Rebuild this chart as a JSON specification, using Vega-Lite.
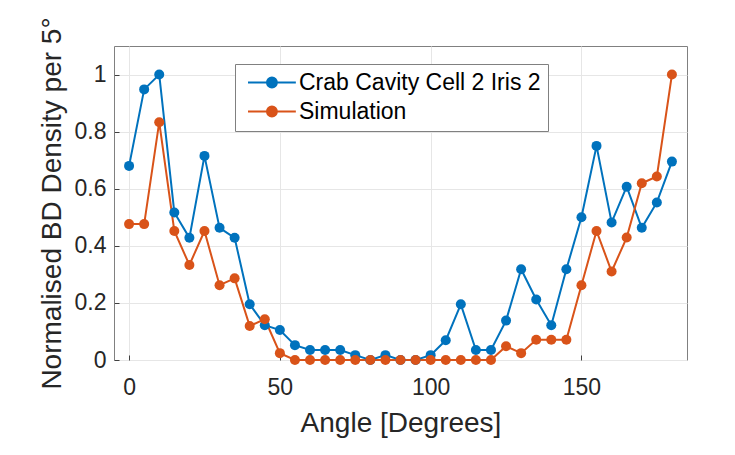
{
  "$schema": "https://vega.github.io/schema/vega-lite/v6.json",
  "width": 573,
  "height": 314,
  "autosize": "none",
  "padding": {"left": 114, "top": 46, "right": 48, "bottom": 95},
  "background": "white",
  "config": {
    "font": "Liberation Sans",
    "view": {"stroke": "#808080", "strokeWidth": 1}
  },
  "data": {
    "values": [
      {"angle": 0, "series": "Crab Cavity Cell 2 Iris 2", "value": 0.68},
      {"angle": 5, "series": "Crab Cavity Cell 2 Iris 2", "value": 0.948},
      {"angle": 10, "series": "Crab Cavity Cell 2 Iris 2", "value": 1.0},
      {"angle": 15, "series": "Crab Cavity Cell 2 Iris 2", "value": 0.517},
      {"angle": 20, "series": "Crab Cavity Cell 2 Iris 2", "value": 0.428},
      {"angle": 25, "series": "Crab Cavity Cell 2 Iris 2", "value": 0.715},
      {"angle": 30, "series": "Crab Cavity Cell 2 Iris 2", "value": 0.463},
      {"angle": 35, "series": "Crab Cavity Cell 2 Iris 2", "value": 0.428},
      {"angle": 40, "series": "Crab Cavity Cell 2 Iris 2", "value": 0.195},
      {"angle": 45, "series": "Crab Cavity Cell 2 Iris 2", "value": 0.122},
      {"angle": 50, "series": "Crab Cavity Cell 2 Iris 2", "value": 0.105},
      {"angle": 55, "series": "Crab Cavity Cell 2 Iris 2", "value": 0.052},
      {"angle": 60, "series": "Crab Cavity Cell 2 Iris 2", "value": 0.035},
      {"angle": 65, "series": "Crab Cavity Cell 2 Iris 2", "value": 0.035},
      {"angle": 70, "series": "Crab Cavity Cell 2 Iris 2", "value": 0.035},
      {"angle": 75, "series": "Crab Cavity Cell 2 Iris 2", "value": 0.017},
      {"angle": 80, "series": "Crab Cavity Cell 2 Iris 2", "value": 0},
      {"angle": 85, "series": "Crab Cavity Cell 2 Iris 2", "value": 0.017},
      {"angle": 90, "series": "Crab Cavity Cell 2 Iris 2", "value": 0},
      {"angle": 95, "series": "Crab Cavity Cell 2 Iris 2", "value": 0},
      {"angle": 100, "series": "Crab Cavity Cell 2 Iris 2", "value": 0.017},
      {"angle": 105, "series": "Crab Cavity Cell 2 Iris 2", "value": 0.069},
      {"angle": 110, "series": "Crab Cavity Cell 2 Iris 2", "value": 0.195},
      {"angle": 115, "series": "Crab Cavity Cell 2 Iris 2", "value": 0.035},
      {"angle": 120, "series": "Crab Cavity Cell 2 Iris 2", "value": 0.035},
      {"angle": 125, "series": "Crab Cavity Cell 2 Iris 2", "value": 0.138},
      {"angle": 130, "series": "Crab Cavity Cell 2 Iris 2", "value": 0.318},
      {"angle": 135, "series": "Crab Cavity Cell 2 Iris 2", "value": 0.212},
      {"angle": 140, "series": "Crab Cavity Cell 2 Iris 2", "value": 0.122},
      {"angle": 145, "series": "Crab Cavity Cell 2 Iris 2", "value": 0.318},
      {"angle": 150, "series": "Crab Cavity Cell 2 Iris 2", "value": 0.5},
      {"angle": 155, "series": "Crab Cavity Cell 2 Iris 2", "value": 0.75},
      {"angle": 160, "series": "Crab Cavity Cell 2 Iris 2", "value": 0.482},
      {"angle": 165, "series": "Crab Cavity Cell 2 Iris 2", "value": 0.607},
      {"angle": 170, "series": "Crab Cavity Cell 2 Iris 2", "value": 0.463},
      {"angle": 175, "series": "Crab Cavity Cell 2 Iris 2", "value": 0.552},
      {"angle": 180, "series": "Crab Cavity Cell 2 Iris 2", "value": 0.695},
      {"angle": 0, "series": "Simulation", "value": 0.476},
      {"angle": 5, "series": "Simulation", "value": 0.476},
      {"angle": 10, "series": "Simulation", "value": 0.833},
      {"angle": 15, "series": "Simulation", "value": 0.452},
      {"angle": 20, "series": "Simulation", "value": 0.333},
      {"angle": 25, "series": "Simulation", "value": 0.452},
      {"angle": 30, "series": "Simulation", "value": 0.262},
      {"angle": 35, "series": "Simulation", "value": 0.286},
      {"angle": 40, "series": "Simulation", "value": 0.119},
      {"angle": 45, "series": "Simulation", "value": 0.143},
      {"angle": 50, "series": "Simulation", "value": 0.024},
      {"angle": 55, "series": "Simulation", "value": 0},
      {"angle": 60, "series": "Simulation", "value": 0},
      {"angle": 65, "series": "Simulation", "value": 0},
      {"angle": 70, "series": "Simulation", "value": 0},
      {"angle": 75, "series": "Simulation", "value": 0},
      {"angle": 80, "series": "Simulation", "value": 0},
      {"angle": 85, "series": "Simulation", "value": 0},
      {"angle": 90, "series": "Simulation", "value": 0},
      {"angle": 95, "series": "Simulation", "value": 0},
      {"angle": 100, "series": "Simulation", "value": 0},
      {"angle": 105, "series": "Simulation", "value": 0},
      {"angle": 110, "series": "Simulation", "value": 0},
      {"angle": 115, "series": "Simulation", "value": 0},
      {"angle": 120, "series": "Simulation", "value": 0},
      {"angle": 125, "series": "Simulation", "value": 0.048},
      {"angle": 130, "series": "Simulation", "value": 0.024},
      {"angle": 135, "series": "Simulation", "value": 0.071},
      {"angle": 140, "series": "Simulation", "value": 0.071},
      {"angle": 145, "series": "Simulation", "value": 0.071},
      {"angle": 150, "series": "Simulation", "value": 0.262},
      {"angle": 155, "series": "Simulation", "value": 0.452},
      {"angle": 160, "series": "Simulation", "value": 0.31},
      {"angle": 165, "series": "Simulation", "value": 0.429},
      {"angle": 170, "series": "Simulation", "value": 0.619},
      {"angle": 175, "series": "Simulation", "value": 0.643},
      {"angle": 180, "series": "Simulation", "value": 1.0}
    ]
  },
  "mark": {"type": "line", "strokeWidth": 2, "point": {"filled": true, "size": 100, "opacity": 1}},
  "encoding": {
    "x": {
      "field": "angle",
      "type": "quantitative",
      "scale": {"domain": [-5, 185], "nice": false, "zero": false},
      "axis": {
        "values": [0, 50, 100, 150],
        "title": "Angle [Degrees]",
        "titleFontSize": 28,
        "titleFontWeight": "normal",
        "titleColor": "#262626",
        "titlePadding": 10,
        "labelFontSize": 23,
        "labelColor": "#262626",
        "labelPadding": 21,
        "ticks": true,
        "tickSize": -5,
        "tickColor": "#404040",
        "tickWidth": 1,
        "domain": false,
        "gridColor": "#e6e6e6",
        "gridOpacity": 1
      }
    },
    "y": {
      "field": "value",
      "type": "quantitative",
      "scale": {"domain": [0, 1.1], "nice": false},
      "axis": {
        "values": [0, 0.2, 0.4, 0.6, 0.8, 1],
        "format": "~g",
        "title": "Normalised BD Density per 5°",
        "titleFontSize": 28,
        "titleFontWeight": "normal",
        "titleColor": "#262626",
        "titlePadding": 8,
        "labelFontSize": 23,
        "labelColor": "#262626",
        "labelPadding": 13,
        "ticks": true,
        "tickSize": -5,
        "tickColor": "#404040",
        "tickWidth": 1,
        "domain": false,
        "gridColor": "#e6e6e6",
        "gridOpacity": 1
      }
    },
    "color": {
      "field": "series",
      "type": "nominal",
      "scale": {"domain": ["Crab Cavity Cell 2 Iris 2", "Simulation"], "range": ["#0072BD", "#D95319"]},
      "legend": {
        "title": null,
        "orient": "none",
        "legendX": 121,
        "legendY": 18,
        "fillColor": "white",
        "strokeColor": "#808080",
        "padding": 7,
        "labelFontSize": 23,
        "labelColor": "#000000",
        "labelOffset": 34,
        "labelLimit": 0,
        "rowPadding": 5,
        "symbolType": "M-1,0L7.7,0M4.25,0A0.9,0.9 0 1,1 2.45,0A0.9,0.9 0 1,1 4.25,0Z",
        "symbolSize": 121,
        "symbolStrokeWidth": 2,
        "encode": {
          "symbols": {
            "update": {
              "fill": {"scale": "color", "field": "value"},
              "stroke": {"scale": "color", "field": "value"},
              "strokeWidth": {"value": 2},
              "opacity": {"value": 1},
              "fillOpacity": {"value": 1}
            }
          }
        }
      }
    }
  }
}
